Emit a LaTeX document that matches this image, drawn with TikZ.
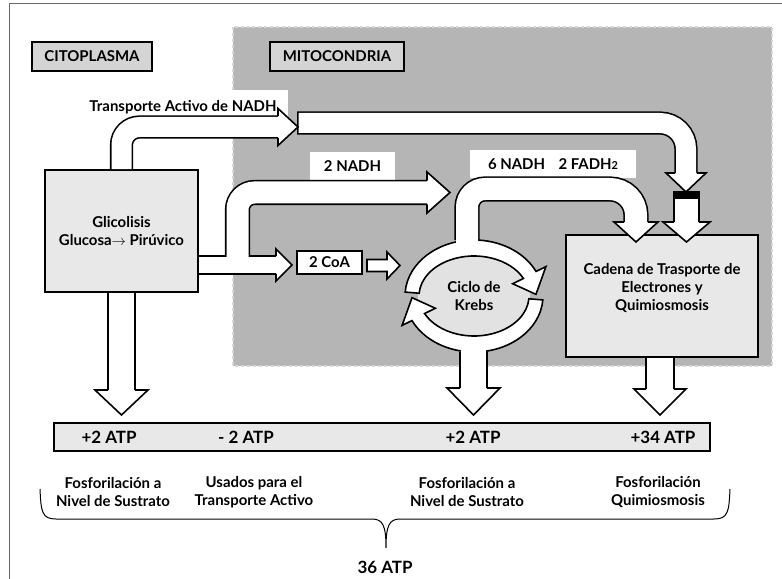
\documentclass[tikz,border=0pt]{standalone}
\usepackage{fontspec}
\setmainfont{Lato}
\usetikzlibrary{calc}

\definecolor{mitogray}{RGB}{181,181,181}
\definecolor{mitoline}{RGB}{214,214,214}
\definecolor{boxgray}{RGB}{232,232,232}
\definecolor{tabgray}{RGB}{212,212,212}
\definecolor{krebsgray}{RGB}{226,226,226}
\definecolor{framegray}{RGB}{105,105,105}

\tikzset{
  box/.style={draw, line width=1.6bp, fill=#1, inner sep=0, align=center},
  tag/.style={fill=white, inner sep=0, align=center},
  txt/.style={inner sep=0, align=center},
  atp/.style={inner sep=0, font=\fontsize{17}{20}\selectfont\bfseries},
  ring/.style={draw, fill=white, line width=1.6bp, line join=miter},
  pics/bhead/.style args={#1/#2/#3}{code={
    \fill[white] (0,0) -- (-#1,#2) -- (-#1,-#2) -- cycle;
    \draw[line width=1.6bp, line join=miter] (-#1,#3) -- (-#1,#2) -- (0,0) -- (-#1,-#2) -- (-#1,-#3);
  }},
}

\begin{document}
\begin{tikzpicture}[x=1bp, y=-1bp, font=\fontsize{15}{18}\selectfont\bfseries]
  \useasboundingbox (0,0) rectangle (782,579);
  \draw[framegray, line width=1bp] (9,579) -- (9,4) -- (782,4);

  % mitocondria
  \draw[dashed, mitoline, fill=mitogray, line width=1.2bp] (233,27) rectangle (772,366);

  \node[box=tabgray, minimum width=120bp, minimum height=29bp] (cito) at (92,56.5) {CITOPLASMA};
  \node[box=tabgray, minimum width=134bp, minimum height=29bp] (mito) at (337,56.5) {MITOCONDRIA};

  \node[tag, minimum width=210bp, minimum height=34bp] (tlabel) at (183,107) {Transporte Activo de NADH};
  \node[tag, minimum width=85bp, minimum height=28bp] (nadh2) at (352.5,166) {2 NADH};
  \node[tag, minimum width=166bp, minimum height=28bp] (nadh6) at (553,164)
    {6 NADH\hspace{0.9em}2 FADH{\fontsize{11}{12}\selectfont 2}};

  % cajas
  \node[box=boxgray, minimum width=153bp, minimum height=122bp] (glic) at (121.5,231)
    {Glicolisis\\Glucosa$\rightarrow$ Pirúvico};
  \node[box=boxgray, minimum width=192bp, minimum height=122bp] (cad) at (662,296) {};
  \node[txt] (cadtxt) at (662,288) {Cadena de Trasporte de\\Electrones y\\Quimiosmosis};
  \node[box=white, minimum width=65bp, minimum height=23bp] (coa) at (329.5,262.5) {2 CoA};
  \node[box=boxgray, minimum width=656bp, minimum height=28bp] (bar) at (382,437) {};

  % ciclo de Krebs
  \coordinate (K) at (474,296);
  \fill[krebsgray] (K) ellipse [x radius=56, y radius=42];
  \draw[ring] ($(K)+(-176:69 and 56)$) arc[start angle=-176, end angle=-26, x radius=69, y radius=56]
    -- ($(K)+(-26:80 and 67)$) -- ($(K)+(-2:62 and 48)$) -- ($(K)+(-26:43 and 28)$)
    -- ($(K)+(-26:55 and 40)$) arc[start angle=-26, end angle=-176, x radius=55, y radius=40] -- cycle;
  \draw[ring] ($(K)+(4:69 and 56)$) arc[start angle=4, end angle=154, x radius=69, y radius=56]
    -- ($(K)+(154:80 and 67)$) -- ($(K)+(178:62 and 48)$) -- ($(K)+(154:43 and 28)$)
    -- ($(K)+(154:55 and 40)$) arc[start angle=154, end angle=4, x radius=55, y radius=40] -- cycle;
  \node[txt] (krebs) at (K) {Ciclo de\\Krebs};

  % flechas: primero el borde negro, luego el interior blanco
  \foreach \col/\ext/\cap/\band in {black/3.2bp/0/0, white/0bp/1.6/8}{
    \draw[line width=20bp+\ext, \col, rounded corners=18bp] (glic.north) |- (279,127);
    \draw[line width=20bp+\ext, \col, rounded corners=26bp] ({297+\cap},123) -| (686,174);
    \draw[line width=23bp+\ext, \col] (686.5,{191+\band}) -- (686.5,223);
    \draw[line width=16bp+\ext, \col] (glic.east |- 0,265) -- (277,265);
    \draw[line width=22bp+\ext, \col, rounded corners=17bp] (237.5,265) |- (428,192.5);
    \draw[line width=22bp+\ext, \col, rounded corners=18bp] (467,{240+2*\cap}) |- (560,189)
      [rounded corners=26bp] -| (636,223);
    \draw[line width=25bp+\ext, \col] (473.5,{352-\cap}) -- (473.5,389);
    \draw[line width=25bp+\ext, \col] (glic.south) -- (121.5,391);
    \draw[line width=26bp+\ext, \col] (cad.south -| 660,0) -- (660,389);
  }

  \pic at (298,127) {bhead=20/18.5/10.8};
  \pic[rotate=-90] at (686,192) {bhead=19/20/10.8};
  \pic[rotate=-90] at (686.5,242) {bhead=20/23.5/12.3};
  \pic at (292,265) {bhead=16/16/8.8};
  \pic at (450,192.5) {bhead=23/20.5/11.8};
  \pic[rotate=-90] at (636,242) {bhead=20/22/11.8};
  \pic[rotate=-90] at (121.5,415) {bhead=25/26.5/13.3};
  \pic[rotate=-90] at (473.5,415) {bhead=27/26.5/13.3};
  \pic[rotate=-90] at (660,415) {bhead=26/26/13.8};

  \draw[line width=1.6bp, fill=white, line join=miter] (367,259.5) -- (387,259.5) -- (387,252)
    -- (400,265.5) -- (387,279) -- (387,271.5) -- (367,271.5) -- cycle;

  % ATP
  \node[atp] (atp1) at (109,437) {+2 ATP};
  \node[atp] (atp2) at (246,437) {- 2 ATP};
  \node[atp] (atp3) at (473,437) {+2 ATP};
  \node[atp] (atp4) at (663,437) {+34 ATP};

  \node[txt] (fos1) at (113,492) {Fosforilación a\\Nivel de Sustrato};
  \node[txt] (usa) at (254,492) {Usados para el\\Transporte Activo};
  \node[txt] (fos2) at (467,492) {Fosforilación a\\Nivel de Sustrato};
  \node[txt] (fos3) at (658,492) {Fosforilación\\Quimiosmosis};

  \draw[line width=1bp] (40,489) .. controls (41,512) and (42,519) .. (56,519) -- (372,519)
    .. controls (383,519) and (386,526) .. (386,548)
    .. controls (386,526) and (389,519) .. (400,519) -- (714,519)
    .. controls (728,519) and (729,512) .. (730,489);
  \node[atp] (total) at (385,567) {36 ATP};
\end{tikzpicture}
\end{document}
